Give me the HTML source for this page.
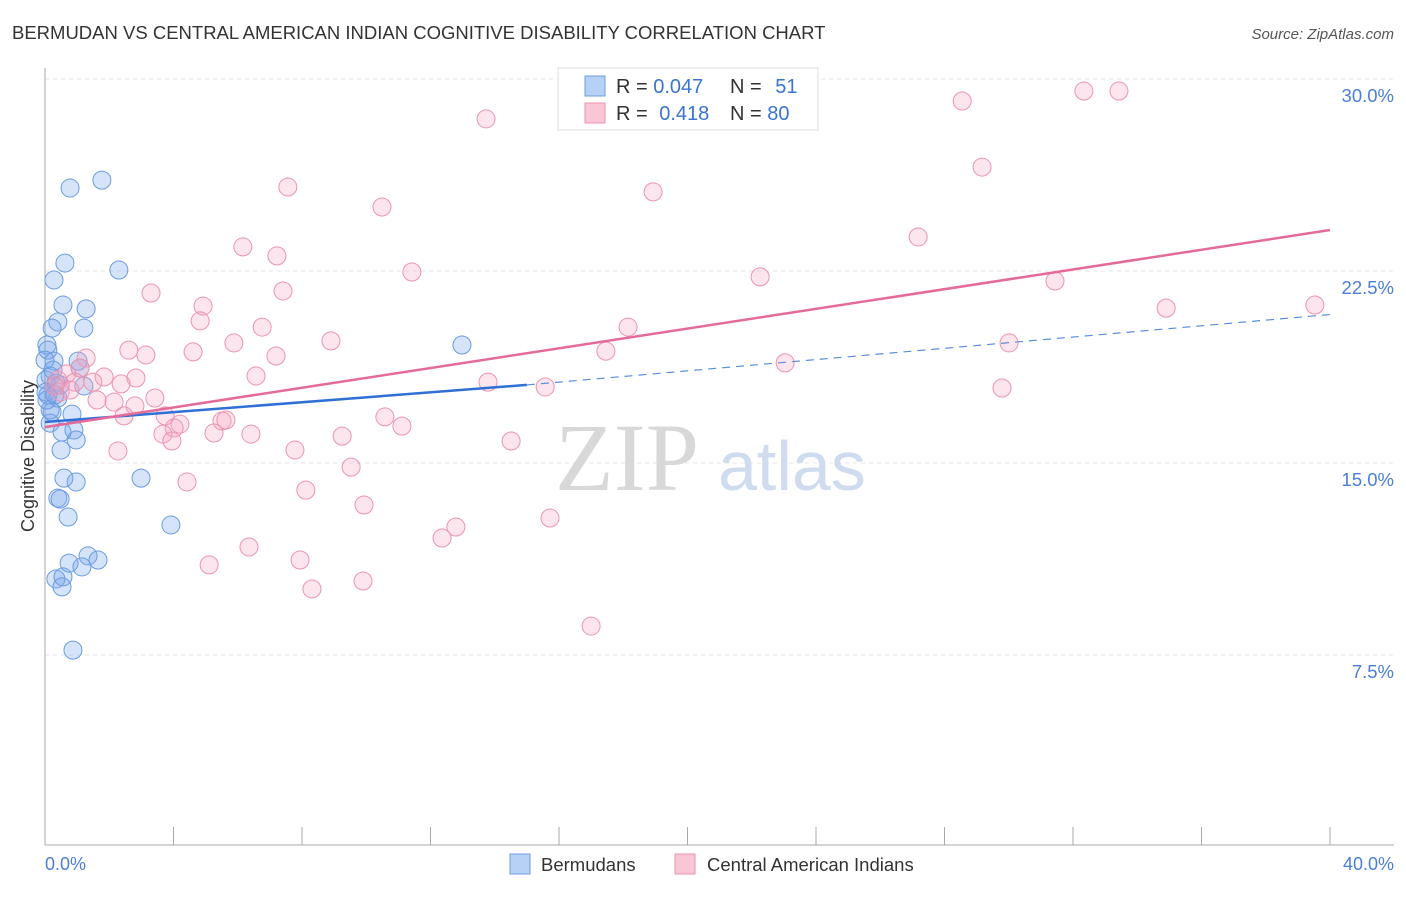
<!DOCTYPE html>
<html><head><meta charset="utf-8"><style>
body{margin:0;background:#fff;font-family:"Liberation Sans",sans-serif;}
svg text{font-family:"Liberation Sans",sans-serif;}
</style></head><body>
<svg id="chart" width="1406" height="892" viewBox="0 0 1406 892" xmlns="http://www.w3.org/2000/svg">
<text x="12" y="39" font-size="18.5" fill="#333">BERMUDAN VS CENTRAL AMERICAN INDIAN COGNITIVE DISABILITY CORRELATION CHART</text>
<text x="1394" y="39" font-size="15" fill="#555" font-style="italic" text-anchor="end">Source: ZipAtlas.com</text>
<g id="grid"></g>
<text x="555" y="490" font-size="96" fill="#d8d8d8" style="font-family:'Liberation Serif',serif">ZIP</text>
<text x="718" y="490" font-size="70" fill="#cfdcf0">atlas</text>
<g id="axes"></g>
<g id="pts"></g>
<g id="lines"></g>
<text transform="translate(34,456) rotate(-90)" font-size="18" fill="#333" text-anchor="middle">Cognitive Disability</text>
<text x="45" y="870" font-size="18" fill="#4a7fd6">0.0%</text>
<text x="1394" y="870" font-size="18" fill="#4a7fd6" text-anchor="end">40.0%</text>
<g>
<rect x="558" y="68" width="260" height="62" fill="#fff" stroke="#ddd"/>
<rect x="585" y="76" width="20" height="20" fill="#b7d0f5" stroke="#6d9de0"/>
<rect x="585" y="103" width="20" height="20" fill="#f9c6d6" stroke="#ec93b0"/>
<text x="616" y="93" font-size="20" fill="#333">R = <tspan fill="#3a74d0">0.047</tspan></text>
<text x="730" y="93" font-size="20" fill="#333">N = <tspan fill="#3a74d0" dx="8">51</tspan></text>
<text x="616" y="120" font-size="20" fill="#333">R = <tspan fill="#3a74d0" dx="6">0.418</tspan></text>
<text x="730" y="120" font-size="20" fill="#333">N = <tspan fill="#3a74d0">80</tspan></text>
</g>
<g>
<rect x="510" y="854" width="20" height="20" fill="#b7d0f5" stroke="#6d9de0"/>
<text x="541" y="871" font-size="18.5" fill="#333">Bermudans</text>
<rect x="675" y="854" width="20" height="20" fill="#f9c6d6" stroke="#ec93b0"/>
<text x="707" y="871" font-size="18.5" fill="#333">Central American Indians</text>
</g>
</svg>
<script>
const yTicks=[7.5,15,22.5,30];
const yTickLabels=["7.5%","15.0%","22.5%","30.0%"];
const xTicks=[0,4,8,12,16,20,24,28,32,36,40];
const blueX=[0.78,1.77,0.62,2.30,0.28,0.56,1.28,0.40,0.22,1.21,0.06,0.09,12.98,0.28,1.03,1.09,0.16,1.21,0.34,0.09,0.40,0.22,0.84,0.16,0.90,0.97,0.50,2.99,0.59,0.97,0.40,0.47,0.72,3.92,0.75,1.34,1.65,1.15,0.34,0.56,0.53,0.87,0.03,0.03,0.16,0.47,0.0,0.06,0.31,0.53,0.25];
const blueY=[25.74,26.05,22.81,22.54,22.15,21.17,21.02,20.51,20.27,20.27,19.61,19.41,19.61,18.98,18.98,18.71,18.40,18.01,18.12,17.66,17.54,16.99,16.91,16.56,16.29,15.90,15.51,14.41,14.41,14.26,13.63,13.59,12.89,12.58,11.09,11.37,11.21,10.94,10.47,10.55,10.16,7.69,18.24,17.77,17.07,18.05,19.02,17.46,17.66,16.21,18.63];
const pinkX=[13.73,32.34,33.43,28.55,29.17,7.56,18.93,10.49,27.18,6.16,7.22,11.42,22.26,31.44,7.41,3.30,4.92,34.90,39.53,4.83,6.76,18.15,8.90,5.88,30.01,2.61,3.14,4.61,7.19,17.46,23.04,1.28,1.09,0.68,1.84,2.83,6.57,0.40,0.93,2.37,0.47,1.49,13.79,15.57,29.79,1.62,2.15,3.42,2.80,2.46,3.74,5.51,5.63,4.20,4.02,10.58,11.11,3.67,3.95,5.26,6.41,9.25,14.51,2.27,7.78,9.53,4.42,8.12,9.93,12.79,12.36,15.72,6.35,7.94,5.11,8.31,9.90,17.00,0.31,0.78];
const pinkY=[28.44,29.53,29.53,29.14,26.56,25.78,25.59,25.00,23.83,23.44,23.09,22.46,22.27,22.11,21.72,21.64,21.13,21.05,21.17,20.55,20.31,20.31,19.77,19.69,19.69,19.41,19.22,19.34,19.18,19.37,18.91,19.10,18.71,18.48,18.36,18.32,18.40,18.24,18.16,18.09,17.77,18.16,18.16,17.97,17.93,17.46,17.38,17.54,17.23,16.84,16.84,16.64,16.68,16.52,16.37,16.80,16.44,16.13,15.86,16.17,16.13,16.05,15.86,15.47,15.51,14.84,14.26,13.94,13.36,12.50,12.07,12.85,11.72,11.21,11.02,10.08,10.39,8.63,18.01,17.85];
const blueTrendX=[0,15,40];
const blueTrendY=[16.6,18.05,20.8];
const pinkTrendX=[0,40];
const pinkTrendY=[16.4,24.1];
const X0=45,X1=1330,Y0=847,PXY=768/30;
const sx=v=>X0+(X1-X0)*v/40, sy=v=>Y0-v*PXY;
const NS="http://www.w3.org/2000/svg";
function mk(t,a,p){const e=document.createElementNS(NS,t);for(const k in a)e.setAttribute(k,a[k]);p.appendChild(e);return e;}
const grid=document.getElementById('grid'),axes=document.getElementById('axes'),pts=document.getElementById('pts'),lines=document.getElementById('lines');
yTicks.forEach((t,i)=>{
 const g=mk('line',{x1:45,x2:1394,y1:sy(t),y2:sy(t),stroke:'#e4e4e4','stroke-dasharray':'4,4'},grid);
 
 
 const l=mk('text',{x:1394,y:sy(t)+23,'font-size':18.5,fill:'#4a7fd6','text-anchor':'end'},axes);
 l.textContent=yTickLabels[i];
 
 
});
mk('line',{x1:45,x2:45,y1:68,y2:845,stroke:'#aaa'},axes);
mk('line',{x1:45,x2:1394,y1:845,y2:845,stroke:'#aaa'},axes);
xTicks.forEach(t=>{
 const k=mk('line',{x1:sx(t),x2:sx(t),y1:827,y2:845,stroke:'#aaa'},axes);
 
 
});
function dots(xs,ys,fill,stroke,name){
 xs.forEach((x,i)=>{
  const c=mk('circle',{cx:sx(x),cy:sy(ys[i]),r:9,fill:fill,stroke:stroke,'stroke-width':1},pts);
  
  
 });
}
dots(blueX,blueY,'rgba(120,165,235,0.3)','#6a9be0','bermudan-point');
dots(pinkX,pinkY,'rgba(245,160,190,0.28)','#ec93b0','central-american-point');
let b1=mk('line',{x1:sx(blueTrendX[0]),y1:sy(blueTrendY[0]),x2:sx(blueTrendX[1]),y2:sy(blueTrendY[1]),stroke:'#2f6fd6','stroke-width':2.5},lines);


let b2=mk('line',{x1:sx(blueTrendX[1]),y1:sy(blueTrendY[1]),x2:sx(blueTrendX[2]),y2:sy(blueTrendY[2]),stroke:'#5b8fd9','stroke-width':1.2,'stroke-dasharray':'8,6'},lines);


let p1=mk('line',{x1:sx(pinkTrendX[0]),y1:sy(pinkTrendY[0]),x2:sx(pinkTrendX[1]),y2:sy(pinkTrendY[1]),stroke:'#e46b99','stroke-width':2.5},lines);


</script>
</body></html>
